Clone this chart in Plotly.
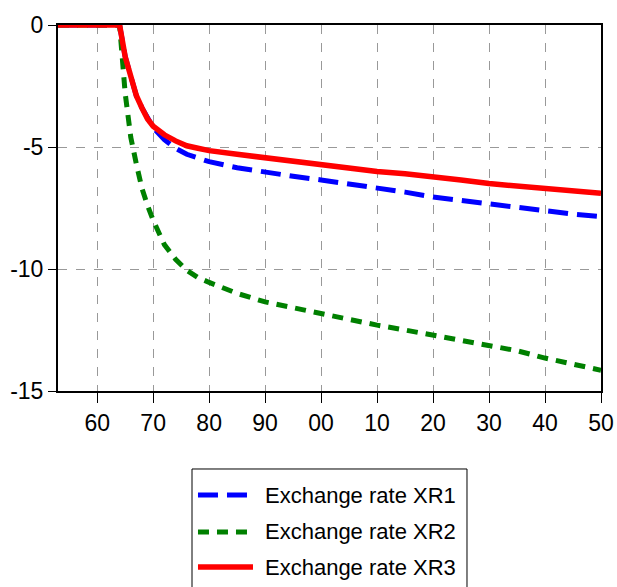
import plotly.graph_objects as go

# Years sampled along the simulation horizon
years = [1953, 1964, 1965, 1966, 1967, 1968, 1969, 1970, 1972, 1974, 1976, 1978,
         1980, 1985, 1990, 1995, 2000, 2005, 2010, 2015, 2020, 2025, 2030,
         2035, 2040, 2045, 2050]

xr1 = [0, 0, -1.3, -2.2, -2.9, -3.4, -3.85, -4.2, -4.7, -5.05, -5.3, -5.45,
       -5.6, -5.85, -6.05, -6.2, -6.35, -6.5, -6.65, -6.85, -7.05, -7.2, -7.35,
       -7.5, -7.6, -7.75, -7.85]

xr2 = [0, 0, -2.8, -4.6, -5.7, -6.7, -7.4, -8.0, -9.0, -9.6, -10.05, -10.35,
       -10.55, -11.0, -11.35, -11.6, -11.8, -12.05, -12.3, -12.5, -12.7, -12.9,
       -13.1, -13.35, -13.65, -13.9, -14.15]

xr3 = [0, 0, -1.3, -2.2, -2.9, -3.4, -3.85, -4.15, -4.5, -4.75, -4.95, -5.05,
       -5.15, -5.3, -5.45, -5.6, -5.75, -5.85, -6.0, -6.1, -6.2, -6.35, -6.5,
       -6.6, -6.7, -6.8, -6.9]

names = ["Exchange rate XR1", "Exchange rate XR2", "Exchange rate XR3"]

x_tickvals = [1960, 1970, 1980, 1990, 2000, 2010, 2020, 2030, 2040, 2050]
x_ticktext = ["60", "70", "80", "90", "00", "10", "20", "30", "40", "50"]
y_tickvals = [0, -5, -10, -15]
y_ticktext = ["0", "-5", "-10", "-15"]

font_family = "Liberation Sans, Arial, sans-serif"

series = [xr1, xr2, xr3]
styles = [
    dict(color="#0000ff", width=5, dash="20px,9px"),
    dict(color="#008000", width=5, dash="11px,8px"),
    dict(color="#ff0000", width=5.5, dash="solid"),
]

fig = go.Figure()
for name, values, style in zip(names, series, styles):
    fig.add_trace(go.Scatter(x=years, y=values, name=name, mode="lines",
                             line=style, showlegend=False))

# Legend box drawn below the plot area (paper coordinates)
fig.add_shape(type="rect", xref="paper", yref="paper",
              x0=0.2468, x1=0.7532, y0=-0.2131, y1=-0.60,
              line=dict(color="black", width=1), fillcolor="white", layer="above")
row_y = [-0.2842, -0.3852, -0.4809]
for name, style, yy in zip(names, styles, row_y):
    fig.add_shape(type="line", xref="paper", yref="paper",
                  x0=0.2578, x1=0.3591, y0=yy, y1=yy,
                  line=dict(color=style["color"], width=style["width"], dash=style["dash"]),
                  layer="above")
    fig.add_annotation(xref="paper", yref="paper", x=0.3775, y=yy,
                       xanchor="left", yanchor="middle", showarrow=False,
                       text=name, font=dict(size=22, color="black"))

fig.update_layout(
    width=617, height=587,
    margin=dict(l=58, r=16, t=25, b=196),
    paper_bgcolor="white", plot_bgcolor="white",
    font=dict(family=font_family, size=23, color="black"),
    showlegend=False,
)

fig.update_xaxes(
    range=[1953, 2050], tickvals=x_tickvals, ticktext=x_ticktext,
    showline=True, linecolor="black", linewidth=2, mirror=True,
    ticks="outside", ticklen=10, tickwidth=1, tickcolor="black",
    showgrid=True, gridcolor="#999999", gridwidth=1, griddash="dash",
    zeroline=False, tickfont=dict(size=23), automargin=False,
)
fig.update_yaxes(
    range=[-15, 0], tickvals=y_tickvals, ticktext=y_ticktext,
    showline=True, linecolor="black", linewidth=2, mirror=True,
    ticks="outside", ticklen=8, tickwidth=1, tickcolor="black",
    showgrid=True, gridcolor="#999999", gridwidth=1, griddash="dash",
    zeroline=False, tickfont=dict(size=23), automargin=False,
)

fig.write_html("out.html")
